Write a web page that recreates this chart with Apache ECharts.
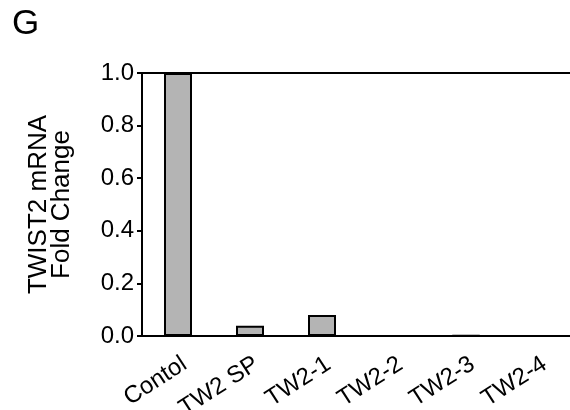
<!DOCTYPE html>
<html>
<head>
<meta charset="utf-8">
<script src="https://cdn.jsdelivr.net/npm/echarts@6/dist/echarts.min.js"></script>
<style>
  html, body { margin: 0; padding: 0; background: #fff; }
  #chart { width: 570px; height: 410px; }
</style>
</head>
<body>
<div id="chart"></div>
<script>
// 数据
const categories = ['Contol', 'TW2 SP', 'TW2-1', 'TW2-2', 'TW2-3', 'TW2-4'];
const foldChange = [1.0, 0.039, 0.08, 0, 0.002, 0];
const yTicks = [0, 0.2, 0.4, 0.6, 0.8, 1.0];

const font = 'Liberation Sans, Arial, sans-serif';
const chart = echarts.init(document.getElementById('chart'));

chart.setOption({
  animation: false,
  textStyle: { fontFamily: font },
  graphic: [
    {
      type: 'text',
      left: 12,
      top: 7,
      style: { text: 'G', fontSize: 35, fill: '#000', fontFamily: font }
    }
  ],
  grid: { left: 142, right: -4, top: 73, bottom: 74, outerBoundsMode: 'none', containLabel: false },
  xAxis: [
    {
      type: 'category',
      data: categories,
      axisLine: { lineStyle: { color: '#000', width: 2 } },
      axisTick: { show: false },
      axisLabel: {
        rotate: 33,
        interval: 0,
        color: '#000',
        fontSize: 24,
        margin: 16,
        verticalAlign: 'top'
      }
    },
    {
      // 顶部边线
      type: 'category',
      position: 'top',
      data: categories,
      axisLine: { lineStyle: { color: '#000', width: 2 } },
      axisTick: { show: false },
      axisLabel: { show: false }
    }
  ],
  yAxis: {
    type: 'value',
    min: yTicks[0],
    max: yTicks[yTicks.length - 1],
    interval: 0.2,
    name: 'TWIST2 mRNA\nFold Change',
    nameLocation: 'middle',
    nameRotate: 90,
    nameGap: 69,
    nameTextStyle: { fontSize: 26, color: '#000', lineHeight: 23 },
    axisLine: { show: true, lineStyle: { color: '#000', width: 2 } },
    axisTick: { show: true, length: 5, lineStyle: { color: '#000', width: 2 } },
    splitLine: { show: false },
    axisLabel: {
      color: '#000',
      fontSize: 24,
      margin: 8,
      formatter: v => v.toFixed(1)
    }
  },
  series: [
    {
      type: 'bar',
      data: foldChange,
      barWidth: 28,
      itemStyle: { color: '#b4b4b4', borderColor: '#000', borderWidth: 2 }
    }
  ]
});
</script>
</body>
</html>
